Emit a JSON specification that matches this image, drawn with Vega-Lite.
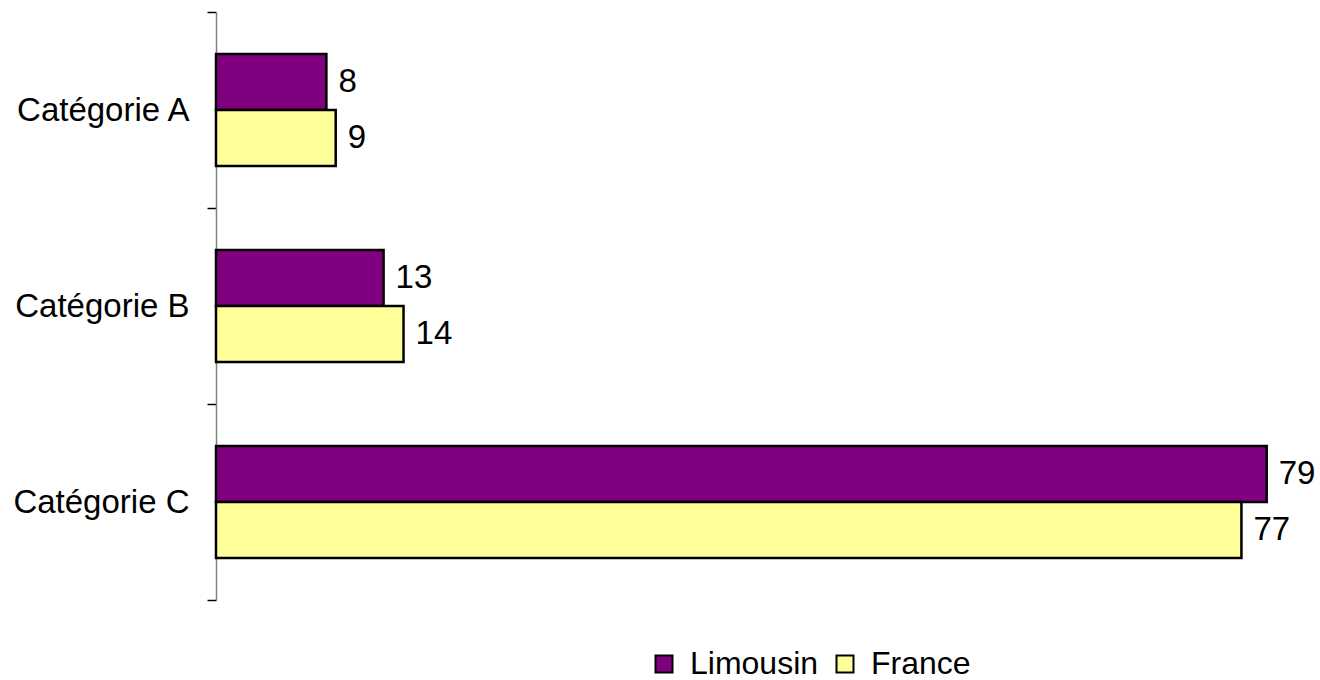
{
  "$schema": "https://vega.github.io/schema/vega-lite/v6.json",
  "autosize": "none",
  "width": 1064,
  "height": 588,
  "padding": {"left": 216, "top": 12, "right": 40, "bottom": 80},
  "background": "white",
  "config": {
    "font": "Liberation Sans",
    "view": {"stroke": null}
  },
  "data": {
    "values": [
      {"categorie": "Catégorie A", "serie": "Limousin", "valeur": 8.3},
      {"categorie": "Catégorie A", "serie": "France", "valeur": 9.0},
      {"categorie": "Catégorie B", "serie": "Limousin", "valeur": 12.6},
      {"categorie": "Catégorie B", "serie": "France", "valeur": 14.1},
      {"categorie": "Catégorie C", "serie": "Limousin", "valeur": 79.0},
      {"categorie": "Catégorie C", "serie": "France", "valeur": 77.1}
    ]
  },
  "encoding": {
    "y": {
      "field": "categorie",
      "type": "nominal",
      "scale": {"paddingInner": 0, "paddingOuter": 0},
      "axis": {
        "title": null,
        "domainColor": "#808080",
        "domainWidth": 1.5,
        "tickColor": "#000000",
        "tickWidth": 1.5,
        "tickSize": 9,
        "tickBand": "extent",
        "labelFontSize": 33,
        "labelColor": "#000000",
        "labelPadding": 18,
        "labelFont": "Liberation Sans"
      }
    },
    "yOffset": {
      "field": "serie",
      "type": "nominal",
      "sort": ["Limousin", "France"],
      "scale": {"paddingInner": 0, "paddingOuter": 0.75}
    },
    "x": {
      "field": "valeur",
      "type": "quantitative",
      "scale": {"domain": [0, 80], "nice": false},
      "axis": null
    }
  },
  "layer": [
    {
      "mark": {"type": "bar", "stroke": "#000000", "strokeWidth": 2.5},
      "encoding": {
        "fill": {
          "field": "serie",
          "type": "nominal",
          "sort": ["Limousin", "France"],
          "scale": {"domain": ["Limousin", "France"], "range": ["#800080", "#FFFF99"]},
          "legend": {
            "title": null,
            "orient": "none",
            "direction": "horizontal",
            "legendX": 432,
            "legendY": 636,
            "padding": 0,
            "symbolType": "square",
            "symbolSize": 289,
            "symbolStrokeColor": "#000000",
            "symbolStrokeWidth": 2,
            "labelFontSize": 32,
            "labelColor": "#000000",
            "labelFont": "Liberation Sans",
            "labelOffset": 10,
            "columnPadding": 10
          }
        }
      }
    },
    {
      "mark": {"type": "text", "align": "left", "baseline": "middle", "dx": 12, "fontSize": 33, "color": "#000000", "font": "Liberation Sans"},
      "encoding": {
        "text": {"field": "valeur", "type": "quantitative", "format": ".0f"}
      }
    }
  ]
}
